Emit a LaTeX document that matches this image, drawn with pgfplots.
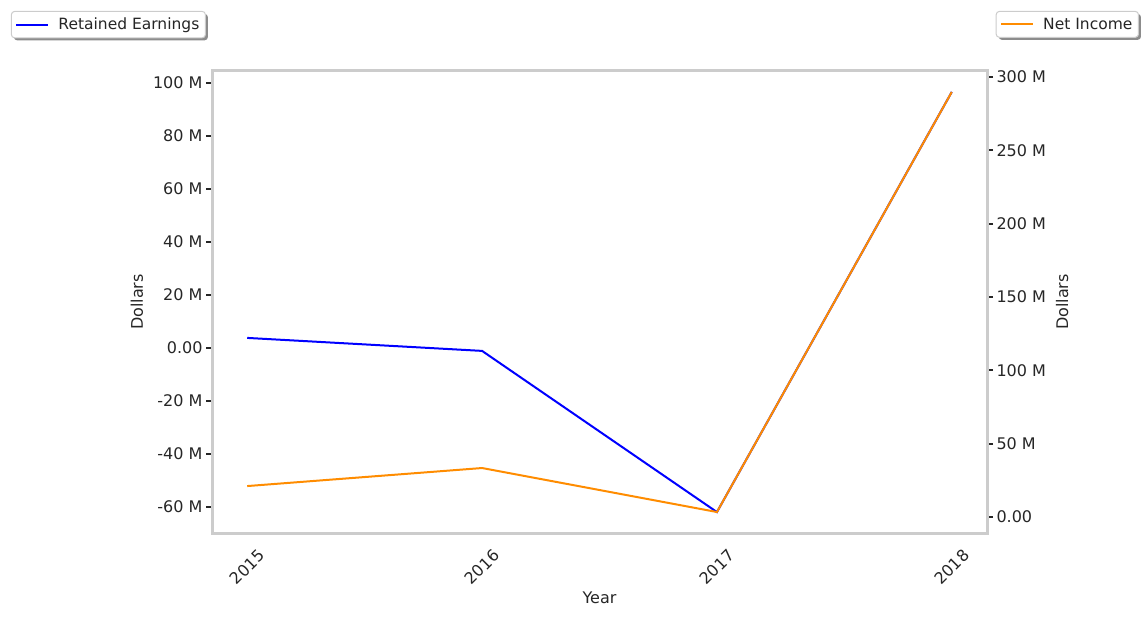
\documentclass[border=0pt]{standalone}
\usepackage{fontspec}
\setmainfont{DejaVu Sans}
\usepackage{pgfplots}
\pgfplotsset{compat=1.18}
\usetikzlibrary{shadows}
\definecolor{frame}{HTML}{CCCCCC}
\definecolor{txt}{HTML}{262626}
\definecolor{reblue}{RGB}{0,0,255}
\definecolor{niorange}{RGB}{255,140,0}
\pgfplotsset{
  common/.style={
    scale only axis, width=775pt, height=462pt,
    at={(212pt,85pt)}, anchor=south west,
    font=\fontsize{16pt}{19pt}\selectfont,
    every tick label/.append style={text=txt},
    axis line style={draw=frame, line width=3pt},
    major tick style={draw=txt, line width=1.8pt},
    major tick length=6pt, tick align=outside,
    xmin=2014.85, xmax=2018.15,
    legend cell align=left,
    legend style={draw=frame, line width=1pt, rounded corners=3pt, text=txt, fill=white,
      font=\fontsize{15.5pt}{18pt}\selectfont,
      drop shadow={shadow xshift=2.5pt, shadow yshift=-2.5pt, fill=gray!90, opacity=1},
      inner xsep=4pt, inner ysep=4.5pt, column sep=7pt},
    label style={text=txt},
  }
}
\begin{document}
\begin{tikzpicture}
\useasboundingbox (0,0) rectangle (1147pt,618pt);
\begin{axis}[common,
  ymin=-69.8, ymax=104.5,
  ytick={-60,-40,-20,0,20,40,60,80,100},
  yticklabels={-60 M,-40 M,-20 M,0.00,20 M,40 M,60 M,80 M,100 M},
  ytick pos=left,
  xtick={2015,2016,2017,2018},
  xticklabels={2015,2016,2017,2018},
  xtick style={draw=none},
  xticklabel style={anchor=center, yshift=-28pt, rotate=45},
  xlabel={Year},
  xlabel style={at={(axis description cs:0.5,-0.1407)}, anchor=center},
  ylabel={Dollars},
  ylabel style={at={(axis description cs:-0.0968,0.5)}, anchor=center, rotate=0},
  legend style={at={(-0.2594,1.1299)}, anchor=north west},
  legend image code/.code={%
    \pgfsetstrokecolor{reblue}\pgfsetlinewidth{2pt}%
    \pgfpathmoveto{\pgfpoint{0pt}{0pt}}\pgfpathlineto{\pgfpoint{32pt}{0pt}}%
    \pgfusepath{stroke}},
]
\addplot[reblue, line width=2pt] coordinates {(2015,3.8) (2016,-1.1) (2017,-61.9) (2018,96.6)};
\addlegendentry{Retained Earnings}
\end{axis}
\begin{axis}[common,
  ymin=-10.9, ymax=304.1,
  ytick={0,50,100,150,200,250,300},
  yticklabels={0.00,50 M,100 M,150 M,200 M,250 M,300 M},
  ytick pos=right,
  yticklabel pos=right,
  xtick=\empty,
  ylabel={Dollars},
  ylabel style={at={(axis description cs:1.0968,0.5)}, anchor=center, rotate=0},
  legend style={at={(1.196,1.1299)}, anchor=north east},
  legend image code/.code={%
    \pgfsetstrokecolor{niorange}\pgfsetlinewidth{2pt}%
    \pgfpathmoveto{\pgfpoint{0pt}{0pt}}\pgfpathlineto{\pgfpoint{32pt}{0pt}}%
    \pgfusepath{stroke}},
]
\addplot[niorange, line width=2pt] coordinates {(2015,21.1) (2016,33.4) (2017,3.4) (2018,289.8)};
\addlegendentry{Net Income}
\end{axis}
\end{tikzpicture}
\end{document}
